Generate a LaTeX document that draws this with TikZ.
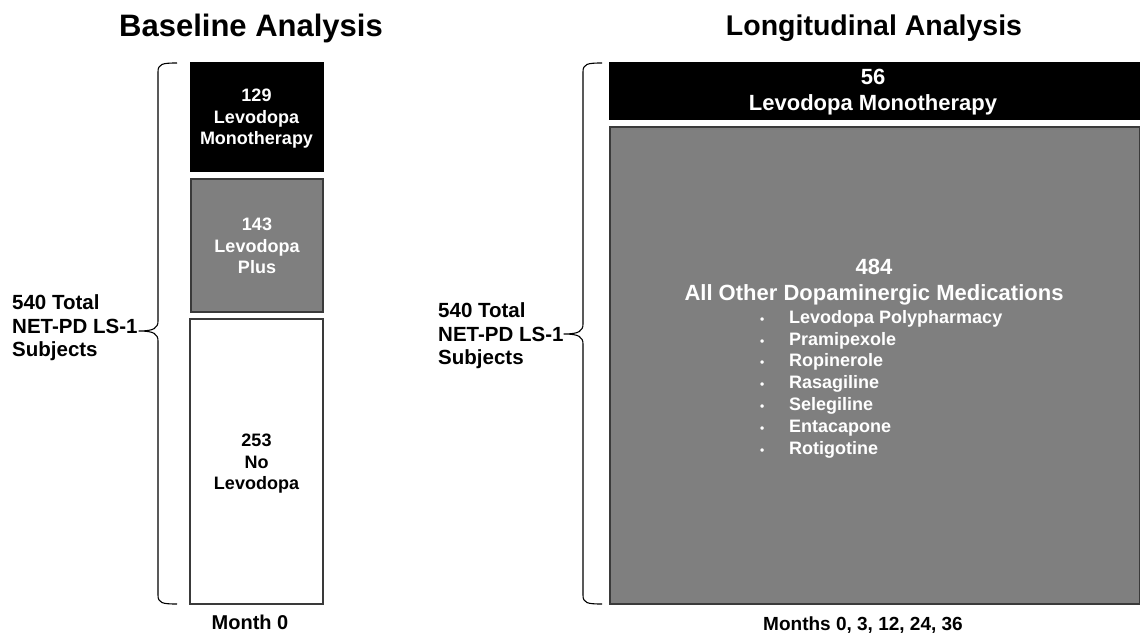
\documentclass[tikz,border=0pt]{standalone}
\usepackage{fontspec}
\setmainfont{Liberation Sans}
\definecolor{midgray}{HTML}{7F7F7F}
\definecolor{edgegray}{HTML}{3A3A3A}
\begin{document}
\begin{tikzpicture}[x=1pt,y=-1pt,
  box/.style={anchor=north west,inner sep=0pt,outer sep=0pt},
  blackbox/.style={box,fill=black,draw=black,line width=0.8pt},
  graybox/.style={box,fill=midgray,draw=edgegray,line width=1.8pt},
  whitebox/.style={box,fill=white,draw=edgegray,line width=1.1pt},
  title/.style={font=\fontsize{29}{33}\selectfont\bfseries},
  boxtext/.style={align=center,inner sep=0pt,font=\fontsize{18}{21.5}\selectfont\bfseries},
  bigtext/.style={align=center,inner sep=0pt,font=\fontsize{22}{26}\selectfont\bfseries,text=white},
  listtext/.style={align=left,inner sep=0pt,font=\fontsize{18}{21.8}\selectfont\bfseries,text=white},
  sidelabel/.style={align=left,anchor=west,inner sep=0pt,font=\fontsize{20.5}{23.5}\selectfont\bfseries},
  footer/.style={inner sep=0pt,font=\fontsize{20}{22}\selectfont\bfseries},
  bracepath/.style={draw=black,line width=1.1pt,line join=round}
]
\useasboundingbox (0,0) rectangle (1140,636);

% ---------- Baseline analysis ----------
\node[title,font=\fontsize{31}{33}\selectfont\bfseries] (t1) at (251,28) {Baseline Analysis};

\node[blackbox,minimum width=133pt,minimum height=109pt] (mono0) at (190,62) {};
\node[graybox,minimum width=132pt,minimum height=133pt] (plus0) at (191,179) {};
\node[whitebox,minimum width=133pt,minimum height=285pt] (nolevo) at (190,319) {};

\node[boxtext,text=white] (mono0t) at (256.5,119) {129\\Levodopa\\Monotherapy};
\node[boxtext,text=white] (plus0t) at (257,246) {143\\Levodopa\\Plus};
\node[boxtext,text=black] (nolevot) at (256.5,464) {253\\No\\Levodopa};

\node[sidelabel] (total0) at (12,328) {540 Total\\NET-PD LS-1\\Subjects};

\draw[bracepath] (177,63) .. controls (162,63) and (158,64) .. (158,72)
  -- (158,321) .. controls (158,328) and (154,331) .. (139,331)
  .. controls (154,331) and (158,334) .. (158,341)
  -- (158,595) .. controls (158,603) and (162,604) .. (177,604);

\node[footer] (m0) at (250,622) {Month 0};

% ---------- Longitudinal analysis ----------
\node[title,font=\fontsize{28.5}{33}\selectfont\bfseries] (t2) at (874,28) {Longitudinal Analysis};

\node[blackbox,minimum width=531pt,minimum height=57pt] (mono1) at (609,62) {};
\node[graybox,minimum width=530pt,minimum height=477pt] (other) at (610,127) {};

\node[bigtext] (mono1t) at (873,92) {56\\Levodopa Monotherapy};
\node[bigtext] (othert) at (874,282) {484\\All Other Dopaminergic Medications};
\node[listtext,anchor=north west] (meds) at (760,310) {%
  \makebox[29pt][l]{\fontsize{12}{12}\selectfont\textbullet}Levodopa Polypharmacy\\
  \makebox[29pt][l]{\fontsize{12}{12}\selectfont\textbullet}Pramipexole\\
  \makebox[29pt][l]{\fontsize{12}{12}\selectfont\textbullet}Ropinerole\\
  \makebox[29pt][l]{\fontsize{12}{12}\selectfont\textbullet}Rasagiline\\
  \makebox[29pt][l]{\fontsize{12}{12}\selectfont\textbullet}Selegiline\\
  \makebox[29pt][l]{\fontsize{12}{12}\selectfont\textbullet}Entacapone\\
  \makebox[29pt][l]{\fontsize{12}{12}\selectfont\textbullet}Rotigotine};

\node[sidelabel] (total1) at (438,336) {540 Total\\NET-PD LS-1\\Subjects};

\draw[bracepath] (602,63) .. controls (587,63) and (583,64) .. (583,72)
  -- (583,324) .. controls (583,331) and (579,334) .. (564,334)
  .. controls (579,334) and (583,337) .. (583,344)
  -- (583,595) .. controls (583,603) and (587,604) .. (602,604);

\node[footer,font=\fontsize{19}{22}\selectfont\bfseries] (m1) at (863,625) {Months 0, 3, 12, 24, 36};
\end{tikzpicture}
\end{document}
